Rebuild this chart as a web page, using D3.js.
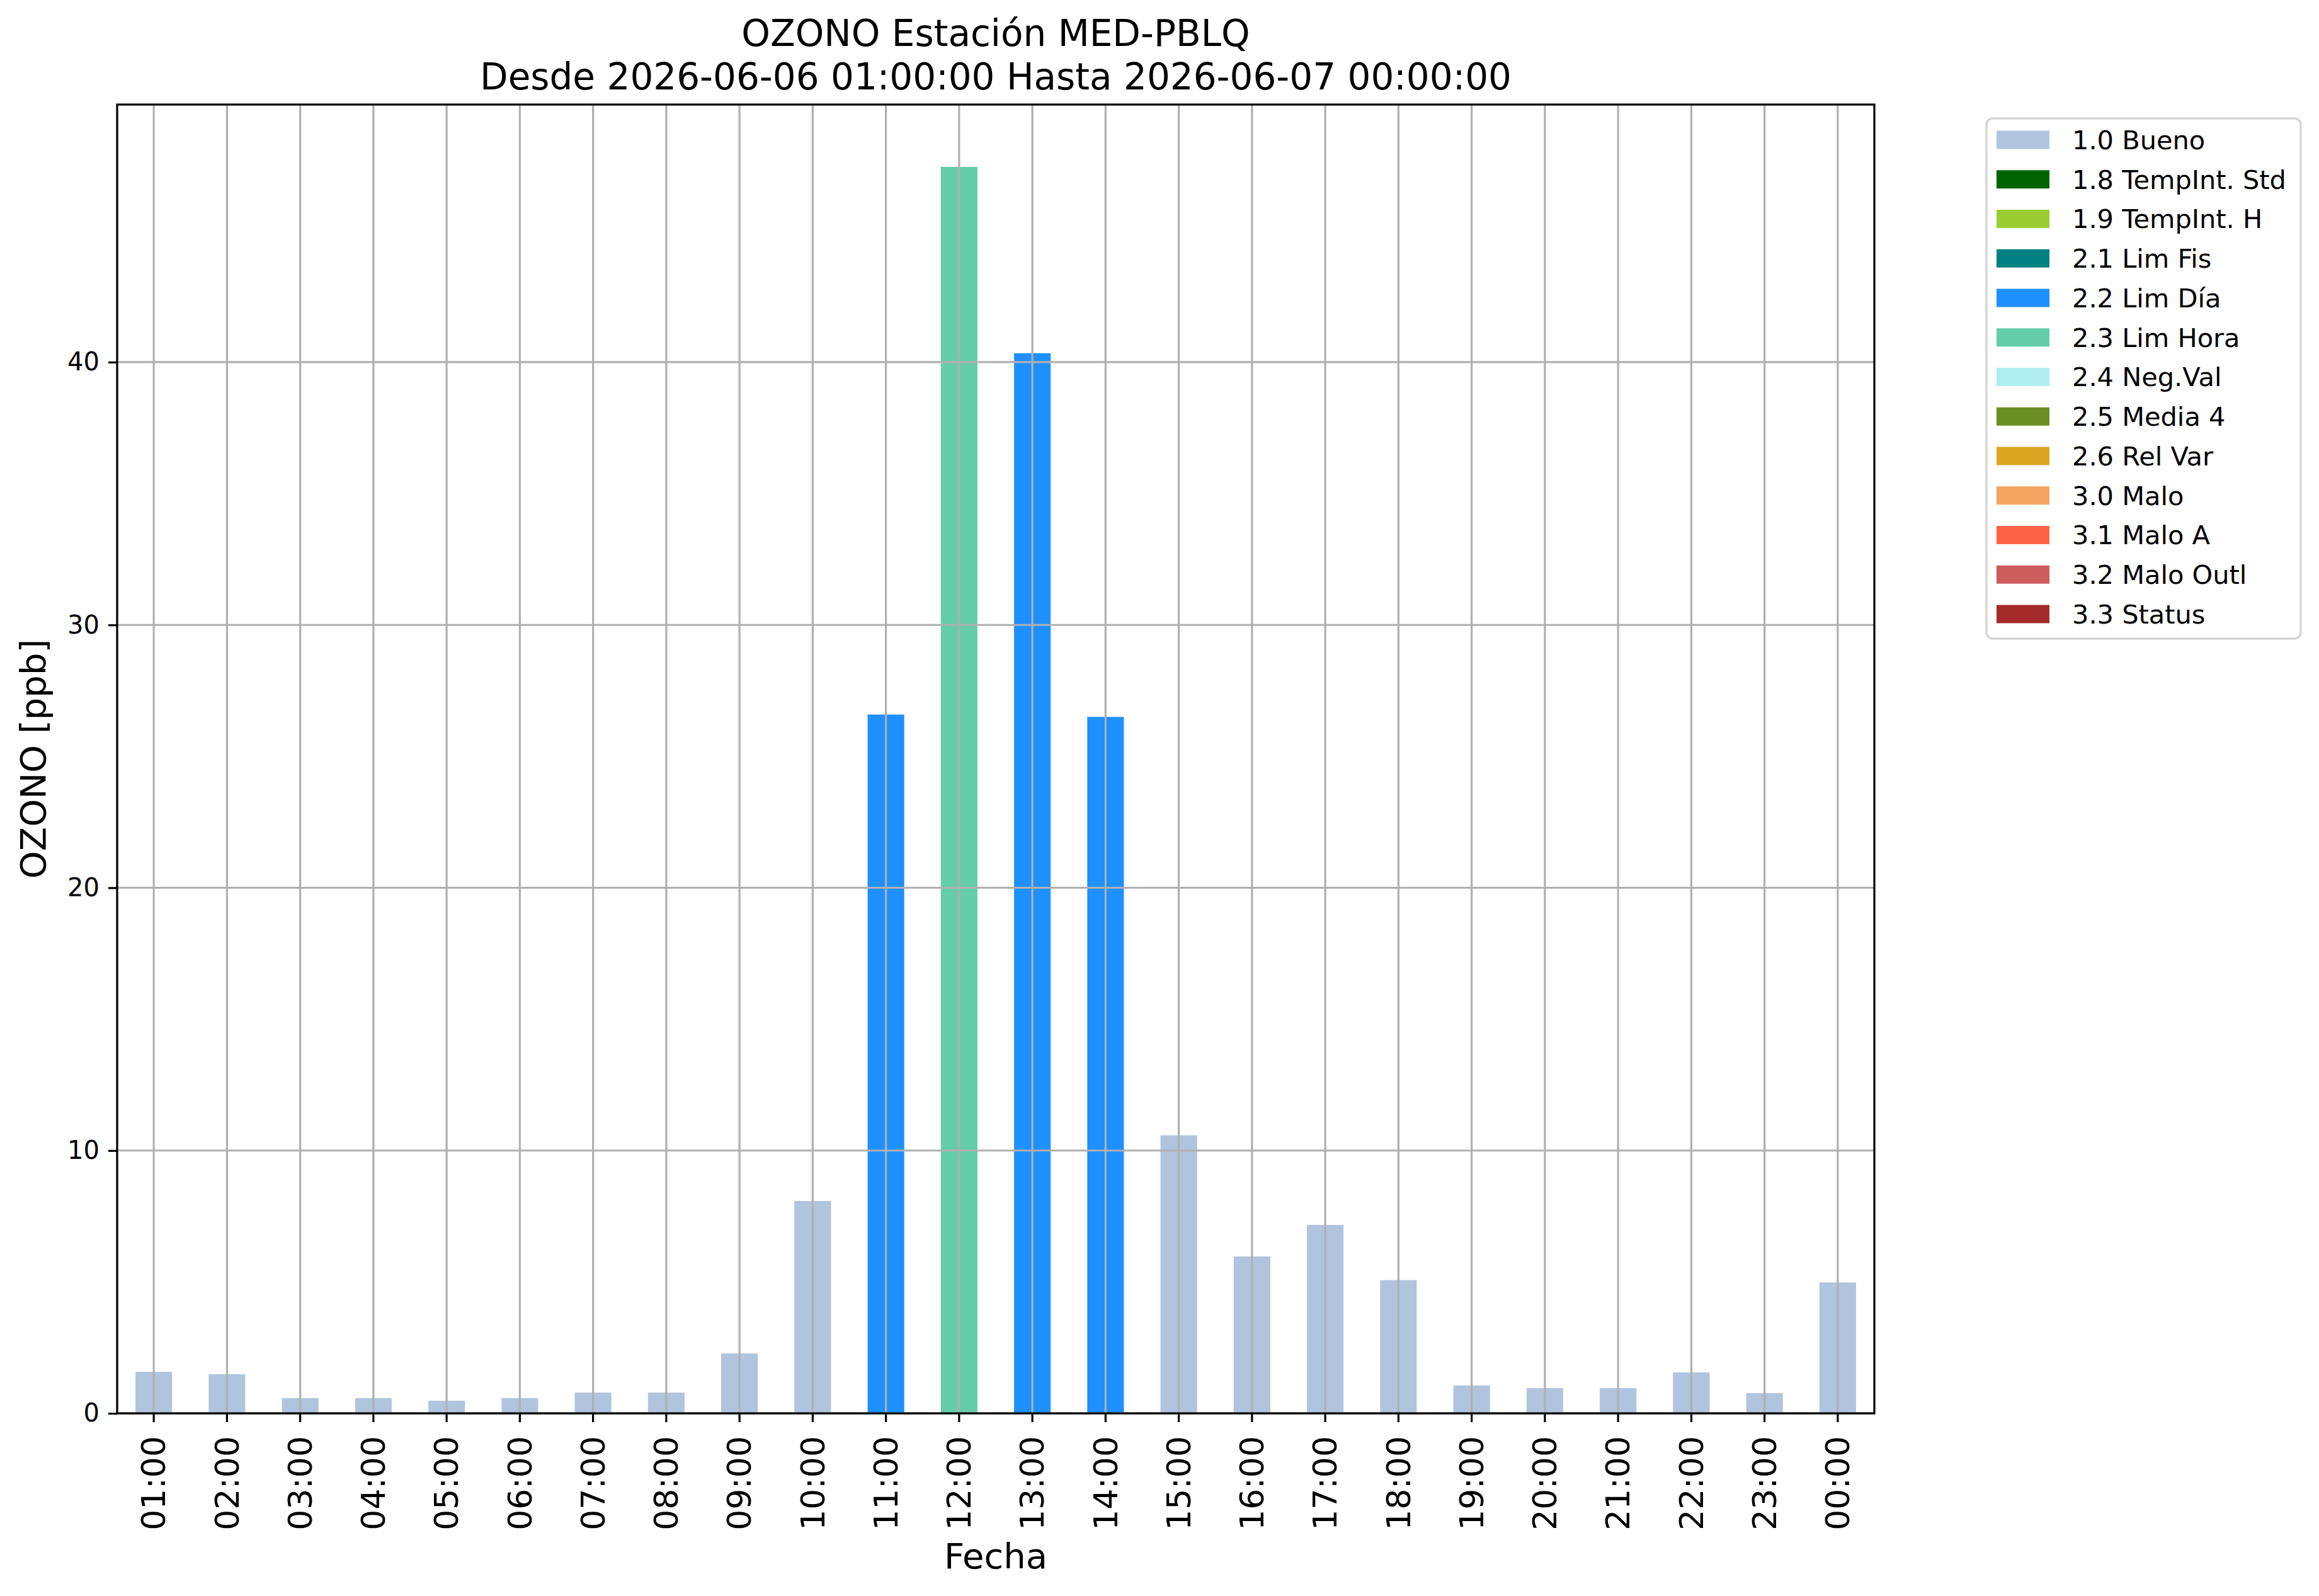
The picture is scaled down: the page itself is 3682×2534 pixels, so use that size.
<!DOCTYPE html>
<html>
<head>
<meta charset="utf-8">
<script src="https://cdn.jsdelivr.net/npm/d3@7"></script>
<style>
  body { margin: 0; background: #fff; }
  text { font-family: "DejaVu Sans", sans-serif; fill: #000; }
</style>
</head>
<body>
<div id="chart"></div>
<script>
// hourly ozone, one bar per hour
const hours = ["01:00","02:00","03:00","04:00","05:00","06:00","07:00","08:00","09:00","10:00","11:00","12:00",
               "13:00","14:00","15:00","16:00","17:00","18:00","19:00","20:00","21:00","22:00","23:00","00:00"];
const values = [1.58, 1.49, 0.58, 0.58, 0.48, 0.58, 0.79, 0.79, 2.28, 8.08, 26.59, 47.43,
                40.34, 26.5, 10.58, 5.97, 7.17, 5.07, 1.06, 0.96, 0.96, 1.56, 0.77, 4.98];
const flags = ["1.0","1.0","1.0","1.0","1.0","1.0","1.0","1.0","1.0","1.0","2.2","2.3",
               "2.2","2.2","1.0","1.0","1.0","1.0","1.0","1.0","1.0","1.0","1.0","1.0"];

const flagCodes = ["1.0","1.8","1.9","2.1","2.2","2.3","2.4","2.5","2.6","3.0","3.1","3.2","3.3"];
const flagNames = ["1.0 Bueno","1.8 TempInt. Std","1.9 TempInt. H","2.1 Lim Fis","2.2 Lim Día","2.3 Lim Hora",
                   "2.4 Neg.Val","2.5 Media 4","2.6 Rel Var","3.0 Malo","3.1 Malo A","3.2 Malo Outl","3.3 Status"];
const flagColors = ["lightsteelblue","darkgreen","yellowgreen","teal","dodgerblue","mediumaquamarine",
                    "paleturquoise","olivedrab","goldenrod","sandybrown","tomato","indianred","brown"];
const yTicks = [0, 10, 20, 30, 40];

const W = 3682, H = 2534;
const plotL = 186, plotR = 2976, plotT = 166, plotB = 2244;

const svg = d3.select("#chart").append("svg")
    .attr("width", W)
    .attr("height", H);

svg.append("rect").attr("width", W).attr("height", H).attr("fill", "#fff");

const x = d3.scaleBand()
    .domain(hours)
    .range([plotL, plotR])
    .paddingInner(0.5)
    .paddingOuter(0.25);

const y = d3.scaleLinear()
    .domain([0, d3.max(values) * 1.05])
    .range([plotB, plotT]);

const color = d3.scaleOrdinal().domain(flagCodes).range(flagColors);

const data = hours.map((h, i) => ({ hour: h, value: values[i], flag: flags[i] }));

// bars
svg.append("g").selectAll("rect")
    .data(data)
    .enter().append("rect")
    .attr("x", d => x(d.hour))
    .attr("y", d => y(d.value))
    .attr("width", x.bandwidth())
    .attr("height", d => y(0) - y(d.value))
    .attr("fill", d => color(d.flag));

// grid drawn over the bars, like the original
const grid = svg.append("g").attr("stroke", "#b0b0b0").attr("stroke-width", 3.2);
grid.selectAll(".vgrid")
    .data(hours)
    .enter().append("line")
    .attr("x1", d => x(d) + x.bandwidth() / 2)
    .attr("x2", d => x(d) + x.bandwidth() / 2)
    .attr("y1", plotT).attr("y2", plotB);
grid.selectAll(".hgrid")
    .data(yTicks)
    .enter().append("line")
    .attr("x1", plotL).attr("x2", plotR)
    .attr("y1", d => y(d)).attr("y2", d => y(d));

// axes
const xAxis = svg.append("g")
    .attr("transform", `translate(0,${plotB})`)
    .call(d3.axisBottom(x).tickSize(14).tickPadding(22));
xAxis.select(".domain").remove();
xAxis.selectAll("line").attr("stroke", "#000").attr("stroke-width", 3.2);
xAxis.selectAll("text")
    .attr("font-size", 52)
    .attr("font-family", "DejaVu Sans")
    .attr("text-anchor", "end")
    .attr("transform", "rotate(-90)")
    .attr("x", -36)
    .attr("y", 0)
    .attr("dy", "0.35em");

const yAxis = svg.append("g")
    .attr("transform", `translate(${plotL},0)`)
    .call(d3.axisLeft(y).tickValues(yTicks).tickFormat(d3.format("d")).tickSize(14).tickPadding(14));
yAxis.select(".domain").remove();
yAxis.selectAll("line").attr("stroke", "#000").attr("stroke-width", 3.2);
yAxis.selectAll("text")
    .attr("font-size", 40)
    .attr("font-family", "DejaVu Sans");

// frame
svg.append("rect")
    .attr("x", plotL).attr("y", plotT)
    .attr("width", plotR - plotL).attr("height", plotB - plotT)
    .attr("fill", "none")
    .attr("stroke", "#000")
    .attr("stroke-width", 3.2);

// titles
const cx = (plotL + plotR) / 2;
svg.append("text").attr("x", cx).attr("y", 73).attr("text-anchor", "middle")
    .attr("font-size", 58).text("OZONO Estación MED-PBLQ");
svg.append("text").attr("x", cx).attr("y", 142).attr("text-anchor", "middle")
    .attr("font-size", 58).text("Desde 2026-06-06 01:00:00 Hasta 2026-06-07 00:00:00");
svg.append("text").attr("x", cx).attr("y", 2490).attr("text-anchor", "middle")
    .attr("font-size", 56).text("Fecha");
svg.append("text")
    .attr("transform", `translate(72,${(plotT + plotB) / 2}) rotate(-90)`)
    .attr("text-anchor", "middle")
    .attr("font-size", 56).text("OZONO [ppb]");

// legend
const legend = svg.append("g");
legend.append("rect")
    .attr("x", 3154).attr("y", 188)
    .attr("width", 499).attr("height", 826)
    .attr("rx", 10)
    .attr("fill", "#fff")
    .attr("stroke", "#d6d6d6")
    .attr("stroke-width", 3.5);

const row = legend.selectAll(".item")
    .data(flagNames)
    .enter().append("g")
    .attr("transform", (d, i) => `translate(0,${222 + i * 62.75})`);
row.append("rect")
    .attr("x", 3170).attr("y", -14.5)
    .attr("width", 84).attr("height", 29)
    .attr("fill", (d, i) => flagColors[i]);
row.append("text")
    .attr("x", 3290)
    .attr("dy", "0.36em")
    .attr("font-size", 41.5)
    .text(d => d);
</script>
</body>
</html>
